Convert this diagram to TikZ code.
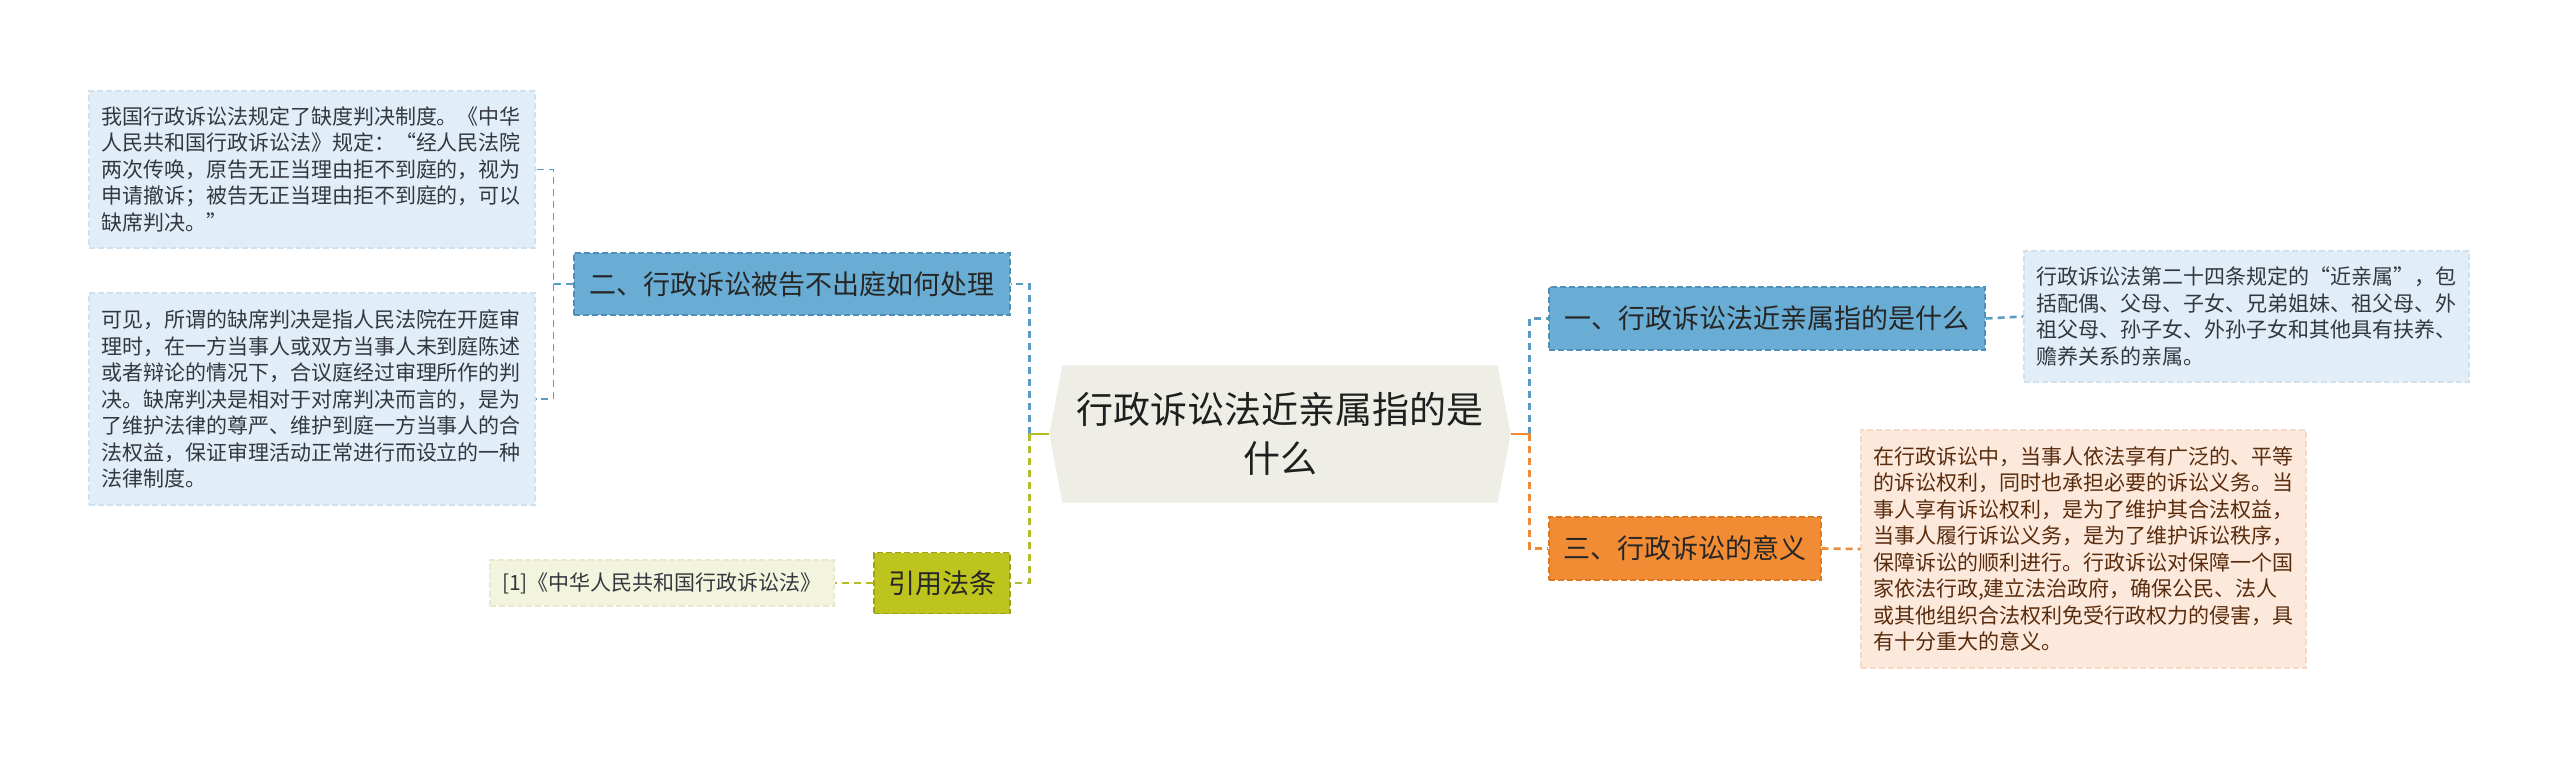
\documentclass[tikz,border=0pt]{standalone}
\usepackage{fontspec}
\setmainfont{Noto Sans CJK SC}
\usetikzlibrary{backgrounds}
\definecolor{bluenode}{HTML}{6AADD4}
\definecolor{blueborder}{HTML}{4F8FB8}
\definecolor{blueleaf}{HTML}{E1EEF7}
\definecolor{blueleafborder}{HTML}{CFE1EE}
\definecolor{bluecon}{HTML}{5C9CC4}
\definecolor{olivenode}{HTML}{BDC41E}
\definecolor{oliveborder}{HTML}{9CA21A}
\definecolor{oliveleaf}{HTML}{F3F4DD}
\definecolor{oliveleafborder}{HTML}{E7E9CA}
\definecolor{olivecon}{HTML}{B5BC24}
\definecolor{orangenode}{HTML}{F28C34}
\definecolor{orangeborder}{HTML}{DC7A24}
\definecolor{orangeleaf}{HTML}{FDE9DC}
\definecolor{orangeleafborder}{HTML}{F6D9C6}
\definecolor{orangecon}{HTML}{EE8A36}
\definecolor{centerfill}{HTML}{EEEEE6}
\definecolor{leaftext}{HTML}{333840}
\definecolor{browntext}{HTML}{5A2C0E}
\begin{document}
\begin{tikzpicture}[x=1pt,y=-1pt,
  box/.style={rectangle, inner sep=0pt, line width=1.3pt, dash pattern=on 6pt off 3pt, align=center},
  bluemain/.style={box, fill=bluenode, draw=blueborder, text=black!85, font=\fontsize{27}{32}\selectfont},
  olivemain/.style={box, fill=olivenode, draw=oliveborder, text=black!85, font=\fontsize{27}{32}\selectfont},
  orangemain/.style={box, fill=orangenode, draw=orangeborder, text=black!85, font=\fontsize{27}{32}\selectfont},
  blueleafbox/.style={box, fill=blueleaf, draw=blueleafborder, text=leaftext, font=\fontsize{21}{26.5}\selectfont},
  oliveleafbox/.style={box, fill=oliveleaf, draw=oliveleafborder, text=leaftext, font=\fontsize{21}{26.5}\selectfont},
  orangeleafbox/.style={box, fill=orangeleaf, draw=orangeleafborder, text=browntext, font=\fontsize{21}{26.5}\selectfont},
  con/.style={line width=2.6pt, dash pattern=on 7pt off 5pt},
  thincon/.style={line width=1.6pt, dash pattern=on 7pt off 5pt},
  stub/.style={line width=2.6pt}
]
\useasboundingbox (0,0) rectangle (2560,759);

% central node
\node[box, minimum width=460pt, minimum height=136pt, font=\fontsize{37}{49}\selectfont, text=black!88] (c) at (1280,434) {行政诉讼法近亲属指的是\\什么};
\begin{scope}[on background layer]
\fill[white] (0,0) rectangle (2560,759);
\fill[centerfill] (c.west) -- ([xshift=13pt]c.north west) -- ([xshift=-13pt]c.north east) -- (c.east) -- ([xshift=-13pt]c.south east) -- ([xshift=13pt]c.south west) -- cycle;
\end{scope}

% left branch
\node[bluemain, minimum width=436pt, minimum height=62pt] (n2) at (792,284) {二、行政诉讼被告不出庭如何处理};
\node[olivemain, minimum width=136pt, minimum height=61pt] (cite) at (942,583) {引用法条};

\node[blueleafbox, minimum width=446pt, minimum height=157pt, text width=422pt, align=left] (l1) at (312,169.5) {我国行政诉讼法规定了缺度判决制度。《中华\\人民共和国行政诉讼法》规定：“经人民法院\\两次传唤，原告无正当理由拒不到庭的，视为\\申请撤诉；被告无正当理由拒不到庭的，可以\\缺席判决。”};
\node[blueleafbox, minimum width=446pt, minimum height=212pt, text width=422pt, align=left] (l2) at (312,399) {可见，所谓的缺席判决是指人民法院在开庭审\\理时，在一方当事人或双方当事人未到庭陈述\\或者辩论的情况下，合议庭经过审理所作的判\\决。缺席判决是相对于对席判决而言的，是为\\了维护法律的尊严、维护到庭一方当事人的合\\法权益，保证审理活动正常进行而设立的一种\\法律制度。};
\node[oliveleafbox, minimum width=344pt, minimum height=46pt] (cl) at (662,583) {[1]《中华人民共和国行政诉讼法》};

% right branch
\node[bluemain, minimum width=436pt, minimum height=63pt] (n1) at (1767,318.5) {一、行政诉讼法近亲属指的是什么};
\node[orangemain, minimum width=272pt, minimum height=63pt] (n3) at (1685,548.5) {三、行政诉讼的意义};

\node[blueleafbox, minimum width=445pt, minimum height=131pt, text width=421pt, align=left] (r1) at (2246.5,316.5) {行政诉讼法第二十四条规定的“近亲属”，包\\括配偶、父母、子女、兄弟姐妹、祖父母、外\\祖父母、孙子女、外孙子女和其他具有扶养、\\赡养关系的亲属。};
\node[orangeleafbox, minimum width=445pt, minimum height=238pt, text width=421pt, align=left] (r3) at (2083.5,549) {在行政诉讼中，当事人依法享有广泛的、平等\\的诉讼权利，同时也承担必要的诉讼义务。当\\事人享有诉讼权利，是为了维护其合法权益，\\当事人履行诉讼义务，是为了维护诉讼秩序，\\保障诉讼的顺利进行。行政诉讼对保障一个国\\家依法行政,建立法治政府，确保公民、法人\\或其他组织合法权利免受行政权力的侵害，具\\有十分重大的意义。};

% connectors
\coordinate (jl) at ([xshift=-20pt]c.west);
\coordinate (jr) at ([xshift=19pt]c.east);
\coordinate (j2) at ([xshift=-20pt]n2.west);

\draw[con, bluecon] (jl) |- (n2.east);
\draw[con, olivecon] (jl) |- (cite.east);
\draw[stub, olivecon] (c.west) -- (jl);

\draw[con, bluecon] (jr) |- (n1.west);
\draw[con, orangecon] (jr) |- (n3.west);
\draw[stub, orangecon] (c.east) -- (jr);

\draw[thincon, bluecon] (n2.west) -- (j2) |- (l1.east);
\draw[thincon, bluecon] (j2) |- (l2.east);
\draw[con, olivecon] (cite.west) -- (cl.east);
\draw[con, bluecon] (n1.east) -- (r1.west);
\draw[con, orangecon] (n3.east) -- (r3.west);
\end{tikzpicture}
\end{document}
